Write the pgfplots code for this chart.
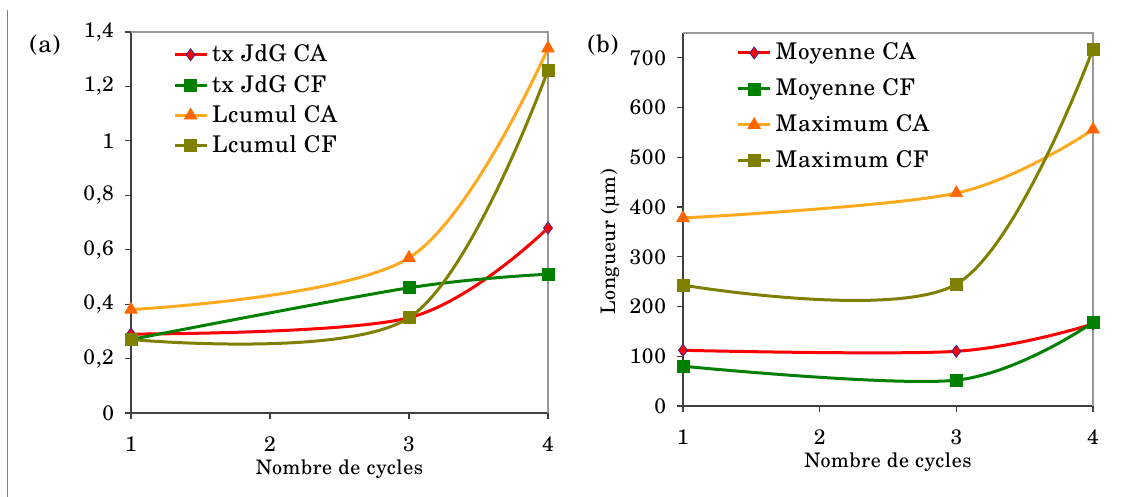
\documentclass[border=0pt]{standalone}
\usepackage{fontspec}
\setmainfont{TeX Gyre Schola}[LetterSpace=3]
\usepackage{pgfplots}
\pgfplotsset{compat=1.18}
\definecolor{cRed}{RGB}{255,0,0}
\definecolor{cGreen}{RGB}{0,128,0}
\definecolor{cOrange}{RGB}{255,170,30}
\definecolor{cOrMark}{RGB}{255,102,0}
\definecolor{cOlive}{RGB}{128,128,0}
\definecolor{cNavy}{RGB}{60,40,140}
\pgfplotsset{
  mystyle/.style={
    scale only axis,
    axis lines=left,
    axis line style={-, black!75, line width=0.6pt},
    tick align=outside,
    major tick length=3pt,
    tick style={black!75, line width=0.6pt},
    xmin=1, xmax=4, xtick={1,2,3,4},
    ticklabel style={font=\fontsize{10.5}{12}\selectfont},
    xticklabel style={yshift=-5.5pt},
    yticklabel style={xshift=-2pt},
    /pgf/number format/assume math mode=true,
    /pgf/number format/use comma,
    label style={font=\fontsize{10}{12}\selectfont},
    xlabel style={yshift=3pt},
    legend style={draw=none, fill=none, font=\fontsize{11.5}{12}\selectfont, anchor=north west, inner sep=0pt,
      /tikz/every even column/.append style={column sep=1.5pt}},
    legend cell align=left,
    legend image code/.code={\draw[mark repeat=2,mark phase=2] plot coordinates {(0pt,0pt)(8pt,0pt)(16pt,0pt)};},
    every axis plot/.append style={line width=1.5pt, smooth, tension=0.55},
    clip=false,
  }
}
\begin{document}
\begin{tikzpicture}
\path[use as bounding box] (0,0) rectangle (567.5pt,248.5pt);
\draw[black!50, line width=0.5pt] (3.5pt,0) -- (3.5pt,243.5pt);
\node[font=\fontsize{12}{14}\selectfont] at (22.5pt,226pt) {(a)};
\node[font=\fontsize{12}{14}\selectfont] at (301.5pt,226pt) {(b)};
\begin{axis}[mystyle,
  at={(65.5pt,42pt)}, anchor=south west,
  width=208.5pt, height=190.5pt,
  ymin=0, ymax=1.4, ytick={0,0.2,...,1.4},
  xlabel={Nombre de cycles},
  legend style={at={(0.1,0.978)}, row sep=1.2pt},
]
\draw[black!40, line width=0.6pt] (rel axis cs:0,1) -- (rel axis cs:1,1) -- (rel axis cs:1,0);
\addplot[cRed, mark=diamond*, mark size=3pt, mark options={solid, fill=cRed, draw=cNavy, line width=0.4pt}] coordinates {(1,0.29)(3,0.35)(4,0.68)};
\addlegendentry{tx JdG CA}
\addplot[cGreen, mark=square*, mark size=3pt, mark options={solid, fill=cGreen, line width=0.4pt}] coordinates {(1,0.27)(3,0.46)(4,0.51)};
\addlegendentry{tx JdG CF}
\addplot[cOrange, mark=triangle*, mark size=3.6pt, mark options={solid, fill=cOrMark, draw=cOrMark, line width=0.4pt}] coordinates {(1,0.38)(3,0.57)(4,1.34)};
\addlegendentry{Lcumul CA}
\addplot[cOlive, mark=square*, mark size=3pt, mark options={solid, fill=cOlive, line width=0.4pt}] coordinates {(1,0.27)(3,0.35)(4,1.26)};
\addlegendentry{Lcumul CF}
\end{axis}
\begin{axis}[mystyle,
  at={(341.5pt,45.5pt)}, anchor=south west,
  width=205pt, height=186.5pt,
  ymin=0, ymax=750, ytick={0,100,...,700},
  xlabel={Nombre de cycles},
  ylabel={Longueur (µm)},
  ylabel style={at={(rel axis cs:-0.178,0.44)}, anchor=center},
  legend style={at={(0.13,0.985)}, row sep=4pt},
]
\draw[black!40, line width=0.6pt] (rel axis cs:0,1) -- (rel axis cs:1,1) -- (rel axis cs:1,0);
\addplot[cRed, mark=diamond*, mark size=3pt, mark options={solid, fill=cRed, draw=cNavy, line width=0.4pt}] coordinates {(1,112)(3,110)(4,165)};
\addlegendentry{Moyenne CA}
\addplot[cGreen, mark=square*, mark size=3pt, mark options={solid, fill=cGreen, line width=0.4pt}] coordinates {(1,80)(3,52)(4,168)};
\addlegendentry{Moyenne CF}
\addplot[cOrange, mark=triangle*, mark size=3.6pt, mark options={solid, fill=cOrMark, draw=cOrMark, line width=0.4pt}] coordinates {(1,378)(3,428)(4,556)};
\addlegendentry{Maximum CA}
\addplot[cOlive, mark=square*, mark size=3pt, mark options={solid, fill=cOlive, line width=0.4pt}] coordinates {(1,243)(3,245)(4,718)};
\addlegendentry{Maximum CF}
\end{axis}
\end{tikzpicture}
\end{document}
